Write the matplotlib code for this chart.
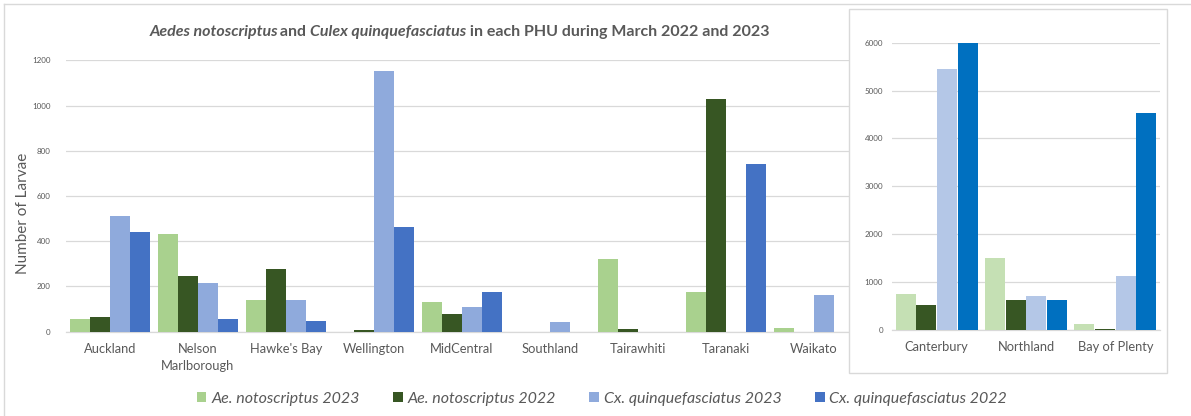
import matplotlib
matplotlib.use("Agg")
import matplotlib.pyplot as plt
from matplotlib.patches import Rectangle, Patch
from matplotlib.lines import Line2D
import numpy as np

plt.rcParams['font.family'] = ['Lato', 'DejaVu Sans']

# ---------------- data ----------------
main_categories = ["Auckland", "Nelson\nMarlborough", "Hawke's Bay", "Wellington",
                   "MidCentral", "Southland", "Tairawhiti", "Taranaki", "Waikato"]
main_ae_2023 = [55, 432, 140, 0, 133, 0, 320, 177, 16]
main_ae_2022 = [63, 245, 276, 7, 77, 0, 13, 1028, 0]
main_cx_2023 = [513, 214, 140, 1154, 108, 43, 0, 0, 164]
main_cx_2022 = [439, 57, 47, 461, 174, 0, 0, 742, 0]

inset_categories = ["Canterbury", "Northland", "Bay of Plenty"]
inset_ae_2023 = [752, 1497, 118]
inset_ae_2022 = [522, 626, 28]
inset_cx_2023 = [5450, 717, 1121]
inset_cx_2022 = [6000, 626, 4531]

series_labels = ["Ae. notoscriptus 2023", "Ae. notoscriptus 2022",
                 "Cx. quinquefasciatus 2023", "Cx. quinquefasciatus 2022"]
main_yticks = [0, 200, 400, 600, 800, 1000, 1200]
inset_yticks = [0, 1000, 2000, 3000, 4000, 5000, 6000]

main_colors = ["#a9d18e", "#375623", "#8faadc", "#4472c4"]
inset_colors = ["#c5e0b4", "#375623", "#b4c7e7", "#0070c0"]

W, H = 1191, 416
fig = plt.figure(figsize=(W / 100, H / 100), dpi=100)
fig.patch.set_facecolor("white")

def fx(px):
    return px / W

def fy(py):
    return 1 - py / H

label_color = "#595959"
grid_color = "#d9d9d9"

def style_axes(ax, ticks, ylim, ypad):
    ax.set_ylim(*ylim)
    ax.set_yticks(ticks)
    ax.set_yticklabels([str(t) for t in ticks], fontsize=5.8, color=label_color)
    ax.yaxis.grid(True, color=grid_color, linewidth=0.9)
    ax.set_axisbelow(True)
    for s in ["top", "right", "left"]:
        ax.spines[s].set_visible(False)
    ax.spines["bottom"].set_color(grid_color)
    ax.spines["bottom"].set_linewidth(0.9)
    ax.tick_params(axis="both", length=0)
    ax.tick_params(axis="y", pad=ypad)
    ax.tick_params(axis="x", labelsize=9.3, labelcolor=label_color, pad=8)

def draw_bars(ax, cats, series, colors, width):
    x = np.arange(len(cats))
    n = len(series)
    for i, (vals, c) in enumerate(zip(series, colors)):
        offs = (i - (n - 1) / 2) * width
        ax.bar(x + offs, vals, width=width * 0.97, color=c, edgecolor="none",
               linewidth=0, zorder=3)
    ax.set_xticks(x)
    ax.set_xticklabels(cats)
    ax.set_xlim(-0.5, len(cats) - 0.5)

# ---------------- main axes ----------------
ax = fig.add_axes([fx(66), fy(331.7), fx(858 - 66), fy(60.3) - fy(331.7)])
ax.set_zorder(0)
draw_bars(ax, main_categories,
          [main_ae_2023, main_ae_2022, main_cx_2023, main_cx_2022],
          main_colors, 0.228)
style_axes(ax, main_yticks, (0, 1200), 11)
ax.set_ylabel("Number of Larvae", fontsize=11, color=label_color)
ax.yaxis.set_label_coords((30 - 66) / 792, (331.7 - 213) / 271.4)
for t in ax.get_xticklabels():
    t.set_linespacing(1.5)

# ---------------- inset background + axes ----------------
box = Rectangle((fx(849), fy(373)), fx(1167 - 849), fy(9) - fy(373),
                transform=fig.transFigure, facecolor="white",
                edgecolor="#d9d9d9", linewidth=1.0, zorder=1)
fig.patches.append(box)

ax2 = fig.add_axes([fx(892), fy(330), fx(1160 - 892), fy(42.7) - fy(330)])
ax2.set_zorder(2)
ax2.patch.set_alpha(0)
draw_bars(ax2, inset_categories,
          [inset_ae_2023, inset_ae_2022, inset_cx_2023, inset_cx_2022],
          inset_colors, 0.232)
style_axes(ax2, inset_yticks, (0, 6000), 6.5)

# ---------------- outer border (top and left) ----------------
fig.add_artist(Line2D([fx(4), 1], [fy(4), fy(4)], transform=fig.transFigure,
                      color="#d9d9d9", linewidth=1.0))
fig.add_artist(Line2D([fx(4), fx(4)], [fy(4), 0], transform=fig.transFigure,
                      color="#d9d9d9", linewidth=1.0))

# ---------------- title with mixed italic ----------------
pieces = [("Aedes notoscriptus", "italic"), (" and ", "normal"),
          ("Culex quinquefasciatus", "italic"),
          (" in each PHU during March 2022 and 2023", "normal")]
trims = [2.5, 0, 0, 0]
fig.canvas.draw()
renderer = fig.canvas.get_renderer()
texts = []
for s, style in pieces:
    t = fig.text(0, fy(32), s, fontsize=11.5, fontweight="bold", style=style,
                 color="#595959", ha="left", va="center")
    texts.append(t)
widths = [t.get_window_extent(renderer).width - tr for t, tr in zip(texts, trims)]
total = sum(widths)
start = 460 - total / 2
cur = start
for t, w in zip(texts, widths):
    t.set_x(fx(cur))
    cur += w

# ---------------- legend ----------------
handles = [Patch(facecolor=c, edgecolor="none") for c in main_colors]
leg = fig.legend(handles, series_labels, loc="center", ncol=4,
                 bbox_to_anchor=(fx(602), fy(399)), frameon=False,
                 prop={"style": "italic", "size": 11.5}, labelcolor=label_color,
                 handlelength=0.6, handleheight=0.6, handletextpad=0.3,
                 columnspacing=2.1)

fig.savefig("out.png", dpi=100)
